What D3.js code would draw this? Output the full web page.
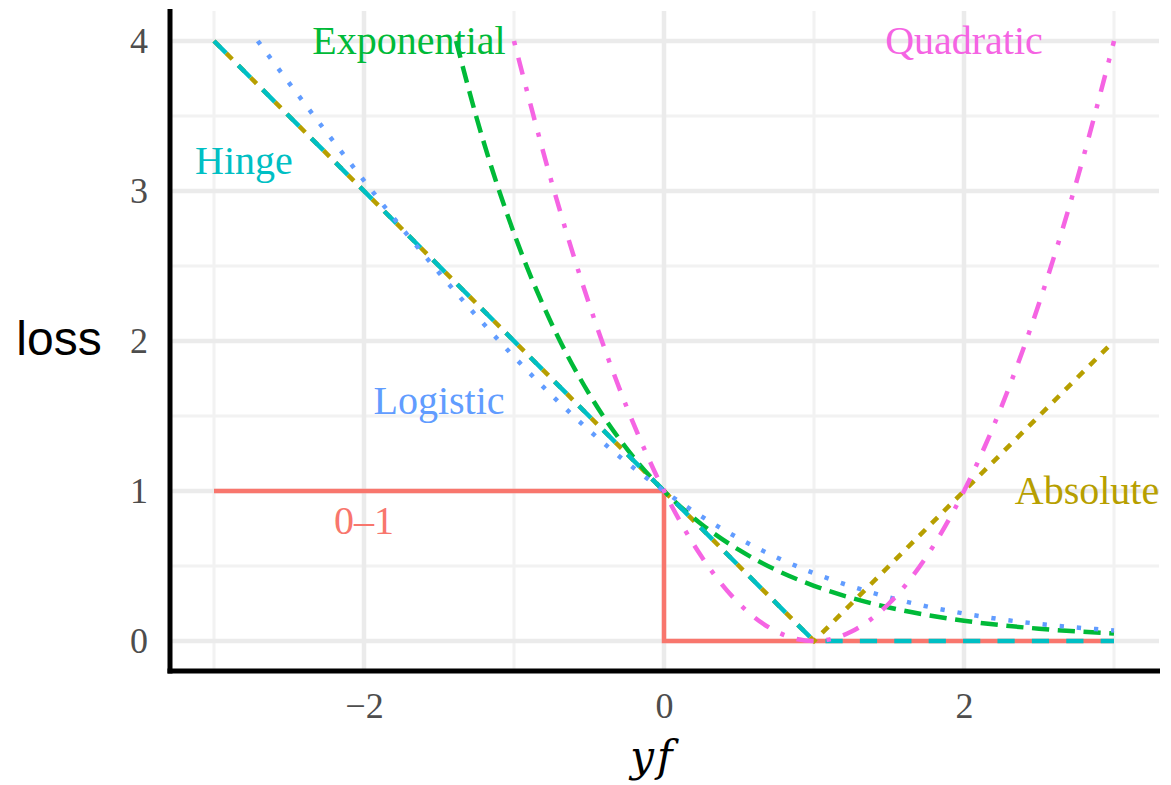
<!DOCTYPE html>
<html>
<head>
<meta charset="utf-8">
<script src="https://cdn.jsdelivr.net/npm/d3@7"></script>
<style>
  body { margin: 0; background: #fff; }
  svg { display: block; }
  .tick text { font-family: "Liberation Serif", serif; font-size: 36px; fill: #4d4d4d; }
</style>
</head>
<body>
<svg width="1171" height="785"></svg>
<script>
/* --------------- Datos --------------- */
const nombres = ["0\u20131", "Absolute", "Exponential", "Hinge", "Logistic", "Quadratic"];
const colores = ["#F8766D", "#B79F00", "#00BA38", "#00BFC4", "#619CFF", "#F564E3"];

const zeroOneX = [-3, 0, 0, 3];
const zeroOneY = [1, 1, 0, 0];

const absoluteX = [-3, 1, 3];
const absoluteY = [4, 0, 2];

const expX = [-1.386, -1.25, -1, -0.75, -0.5, -0.25, 0, 0.25, 0.5, 0.75, 1, 1.25, 1.5, 1.75, 2, 2.25, 2.5, 2.75, 3];
const expY = [4, 3.49, 2.718, 2.117, 1.649, 1.284, 1, 0.779, 0.607, 0.472, 0.368, 0.287, 0.223, 0.174, 0.135, 0.105, 0.082, 0.064, 0.05];

const hingeX = [-3, 1, 3];
const hingeY = [4, 0, 0];

const logX = [-2.708, -2.5, -2.25, -2, -1.75, -1.5, -1.25, -1, -0.75, -0.5, -0.25, 0, 0.25, 0.5, 0.75, 1, 1.25, 1.5, 1.75, 2, 2.25, 2.5, 2.75, 3];
const logY = [4, 3.721, 3.391, 3.069, 2.756, 2.455, 2.167, 1.895, 1.64, 1.405, 1.192, 1, 0.831, 0.684, 0.558, 0.452, 0.364, 0.291, 0.231, 0.183, 0.144, 0.114, 0.09, 0.07];

const quadX = [-1, -0.75, -0.5, -0.25, 0, 0.25, 0.5, 0.75, 1, 1.25, 1.5, 1.75, 2, 2.25, 2.5, 2.75, 3];
const quadY = [4, 3.063, 2.25, 1.563, 1, 0.563, 0.25, 0.063, 0, 0.063, 0.25, 0.563, 1, 1.563, 2.25, 3.063, 4];

// donde van las etiquetas de cada curva (coordenadas de datos)
const etiquetaX = [-2, 2.82, -1.7, -2.8, -1.5, 2];
const etiquetaY = [0.8, 1, 4, 3.2, 1.6, 4];

const xTicks = [-2, 0, 2];
const yTicks = [0, 1, 2, 3, 4];

/* --------------- Grafica --------------- */
const svg = d3.select("svg");

const x = d3.scaleLinear().domain([-3.3, 3.3]).range([169, 1159]);
const y = d3.scaleLinear().domain([-0.2, 4.2]).range([671, 11]);

// rejilla: menores primero, luego mayores
const grid = svg.append("g");
const xMinor = [-3, -1, 1, 3];
const yMinor = [0.5, 1.5, 2.5, 3.5];

grid.selectAll(".vmin").data(xMinor).enter().append("line")
    .attr("x1", d => x(d)).attr("x2", d => x(d))
    .attr("y1", y.range()[0]).attr("y2", y.range()[1])
    .attr("stroke", "#f2f2f2").attr("stroke-width", 3);
grid.selectAll(".hmin").data(yMinor).enter().append("line")
    .attr("x1", x.range()[0]).attr("x2", x.range()[1])
    .attr("y1", d => y(d)).attr("y2", d => y(d))
    .attr("stroke", "#f2f2f2").attr("stroke-width", 3);
grid.selectAll(".vmaj").data(xTicks).enter().append("line")
    .attr("x1", d => x(d)).attr("x2", d => x(d))
    .attr("y1", y.range()[0]).attr("y2", y.range()[1])
    .attr("stroke", "#ebebeb").attr("stroke-width", 4.5);
grid.selectAll(".hmaj").data(yTicks).enter().append("line")
    .attr("x1", x.range()[0]).attr("x2", x.range()[1])
    .attr("y1", d => y(d)).attr("y2", d => y(d))
    .attr("stroke", "#ebebeb").attr("stroke-width", 4.5);

// curvas
const u = 4.3; // unidad de los guiones
const guiones = [null, `${2*u},${2*u}`, `${4*u},${2*u}`, `${4*u},${4*u}`, `${u},${3*u}`, `${u},${3*u},${4*u},${3*u}`];
const curvas = [
    [zeroOneX, zeroOneY, d3.curveLinear],
    [absoluteX, absoluteY, d3.curveLinear],
    [expX, expY, d3.curveMonotoneX],
    [hingeX, hingeY, d3.curveLinear],
    [logX, logY, d3.curveMonotoneX],
    [quadX, quadY, d3.curveMonotoneX]
];

curvas.forEach((c, i) => {
    const pts = c[0].map((v, j) => [v, c[1][j]]);
    const line = d3.line().x(d => x(d[0])).y(d => y(d[1])).curve(c[2]);
    svg.append("path")
        .attr("d", line(pts))
        .attr("fill", "none")
        .attr("stroke", colores[i])
        .attr("stroke-width", 4.5)
        .attr("stroke-dasharray", guiones[i]);
});

// etiquetas de las curvas
svg.selectAll(".etq").data(nombres).enter().append("text")
    .attr("x", (d, i) => x(etiquetaX[i]))
    .attr("y", (d, i) => y(etiquetaY[i]) + 13)
    .attr("text-anchor", "middle")
    .attr("font-family", "Liberation Serif, serif")
    .attr("font-size", 40)
    .attr("fill", (d, i) => colores[i])
    .text(d => d);

// ejes (solo las etiquetas)
const ejeX = svg.append("g")
    .attr("transform", "translate(0,671)")
    .call(d3.axisBottom(x).tickValues(xTicks).tickSize(0).tickPadding(21)
        .tickFormat(d => d < 0 ? "\u2212" + Math.abs(d) : d));
ejeX.select(".domain").remove();

const ejeY = svg.append("g")
    .attr("transform", "translate(169,0)")
    .call(d3.axisLeft(y).tickValues(yTicks).tickSize(0).tickPadding(21)
        .tickFormat(d3.format("d")));
ejeY.select(".domain").remove();

// lineas negras de los ejes
svg.append("line").attr("x1", 170).attr("x2", 170).attr("y1", 9).attr("y2", 673.5)
    .attr("stroke", "#000").attr("stroke-width", 5);
svg.append("line").attr("x1", 167.5).attr("x2", 1160).attr("y1", 671).attr("y2", 671)
    .attr("stroke", "#000").attr("stroke-width", 5);

// titulos de los ejes
svg.append("text")
    .attr("x", 59).attr("y", 355)
    .attr("text-anchor", "middle")
    .attr("font-family", "Liberation Sans, sans-serif")
    .attr("font-size", 48)
    .text("loss");

svg.append("text")
    .attr("x", 653).attr("y", 771)
    .attr("text-anchor", "middle")
    .attr("font-family", "DejaVu Serif, serif")
    .attr("font-style", "italic")
    .attr("font-size", 42)
    .attr("letter-spacing", 3)
    .text("yf");
</script>
</body>
</html>
